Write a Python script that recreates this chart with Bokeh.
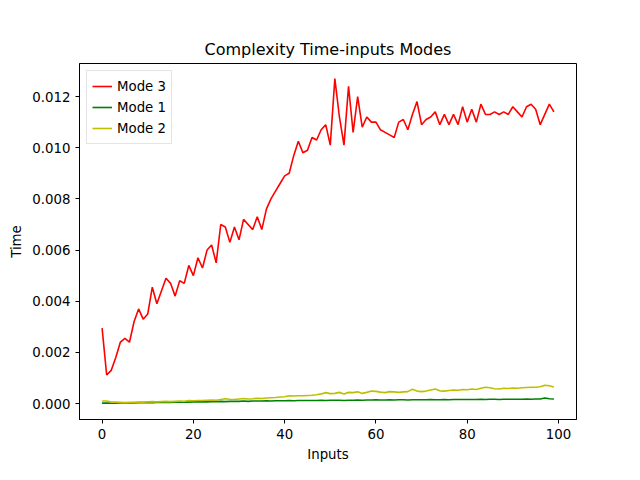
from bokeh.plotting import figure
from bokeh.embed import file_html
from bokeh.resources import INLINE
from bokeh.models import Range1d, NumeralTickFormatter, FixedTicker, Legend, LegendItem

inputs = list(range(100))
mode3 = [0.00295,0.00112,0.0013,0.0018,0.0024,0.00255,0.0024,0.0032,0.0037,0.0033,
         0.0035,0.00455,0.0039,0.0044,0.0049,0.0047,0.0042,0.0048,0.0047,0.0054,
         0.0050,0.0057,0.0053,0.0060,0.0062,0.0055,0.0070,0.0069,0.0063,0.0069,
         0.0064,0.0072,0.0070,0.0068,0.0073,0.0068,0.0076,0.0080,0.0083,0.0086,
         0.0089,0.0090,0.0097,0.01025,0.0098,0.0099,0.0104,0.0103,0.0107,0.0109,
         0.0101,0.0127,0.0112,0.0101,0.0124,0.0106,0.0120,0.0108,0.0112,0.0110,
         0.0110,0.0107,0.0106,0.0105,0.0104,0.0110,0.0111,0.0107,0.0113,0.0118,
         0.0109,0.0111,0.0112,0.0114,0.0109,0.0113,0.0109,0.0113,0.0109,0.0116,
         0.0110,0.0115,0.0110,0.0117,0.0113,0.0113,0.0114,0.0113,0.0114,0.0113,
         0.0116,0.0114,0.0112,0.0116,0.0117,0.0115,0.0109,0.0113,0.0117,0.0114]
mode1 = [0.00002,0.00002,0.00002,0.00002,0.00003,0.00003,0.00003,0.00003,0.00004,0.00004,
         0.00004,0.00004,0.00005,0.00005,0.00005,0.00005,0.00006,0.00006,0.00006,0.00006,
         0.00007,0.00007,0.00007,0.00007,0.00008,0.00008,0.00009,0.00008,0.00009,0.00009,
         0.00009,0.00010,0.00009,0.00010,0.00010,0.00010,0.00011,0.00010,0.00011,0.00011,
         0.00011,0.00012,0.00011,0.00012,0.00012,0.00012,0.00012,0.00012,0.00013,0.00012,
         0.00013,0.00013,0.00013,0.00012,0.00013,0.00013,0.00014,0.00013,0.00014,0.00014,
         0.00015,0.00014,0.00014,0.00015,0.00014,0.00015,0.00015,0.00014,0.00015,0.00015,
         0.00015,0.00015,0.00016,0.00015,0.00015,0.00016,0.00015,0.00016,0.00016,0.00016,
         0.00016,0.00016,0.00016,0.00017,0.00016,0.00017,0.00017,0.00016,0.00017,0.00017,
         0.00017,0.00017,0.00017,0.00018,0.00017,0.00018,0.00018,0.00022,0.00019,0.00018]
mode2 = [0.00010,0.00010,0.00006,0.00006,0.00005,0.00004,0.00005,0.00005,0.00006,0.00006,
         0.00007,0.00008,0.00007,0.00008,0.00009,0.00008,0.00009,0.00010,0.00009,0.00012,
         0.00011,0.00012,0.00012,0.00013,0.00014,0.00013,0.00016,0.00019,0.00017,0.00016,
         0.00018,0.00020,0.00018,0.00019,0.00021,0.00020,0.00022,0.00023,0.00024,0.00026,
         0.00027,0.00031,0.00030,0.00031,0.00031,0.00032,0.00033,0.00035,0.00038,0.00043,
         0.00039,0.00040,0.00044,0.00038,0.00044,0.00043,0.00046,0.00040,0.00044,0.00049,
         0.00048,0.00045,0.00043,0.00047,0.00046,0.00044,0.00046,0.00047,0.00056,0.00049,
         0.00047,0.00049,0.00053,0.00057,0.00050,0.00049,0.00051,0.00053,0.00052,0.00055,
         0.00054,0.00057,0.00055,0.00060,0.00064,0.00062,0.00058,0.00057,0.00060,0.00059,
         0.00061,0.00060,0.00062,0.00063,0.00064,0.00064,0.00066,0.00072,0.00070,0.00065]

p = figure(width=624, height=464, output_backend="svg", toolbar_location=None,
           title="Complexity Time-inputs Modes",
           x_range=Range1d(-4.95, 103.95), y_range=Range1d(-0.00062, 0.01329),
           min_border_left=79, min_border_right=48, min_border_top=63, min_border_bottom=36)
p.title.align = "center"
p.title.text_font = "DejaVu Sans"
p.title.text_font_size = "12pt"
p.title.text_font_style = "normal"
p.title.text_color = "black"
p.xgrid.visible = False
p.ygrid.visible = False
p.outline_line_color = "black"
p.xaxis.axis_label = "Inputs"
p.yaxis.axis_label = "Time"
p.xaxis.ticker = FixedTicker(ticks=[0, 20, 40, 60, 80, 100])
p.yaxis.ticker = FixedTicker(ticks=[0, 0.002, 0.004, 0.006, 0.008, 0.010, 0.012])
p.yaxis.formatter = NumeralTickFormatter(format="0.000")
for ax in (p.xaxis[0], p.yaxis[0]):
    ax.axis_label_text_font = "DejaVu Sans"
    ax.axis_label_text_font_style = "normal"
    ax.axis_label_text_font_size = "10pt"
    ax.axis_label_text_color = "black"
    ax.major_label_text_font = "DejaVu Sans"
    ax.major_label_text_font_size = "10pt"
    ax.major_label_text_color = "black"
    ax.minor_tick_line_color = None
    ax.major_tick_in = 0
    ax.major_tick_out = 4

r3 = p.line(inputs, mode3, line_color="red", line_width=1.6)
r1 = p.line(inputs, mode1, line_color="green", line_width=1.6)
r2 = p.line(inputs, mode2, line_color="#bfbf00", line_width=1.6)
legend = Legend(items=[LegendItem(label="Mode 3", renderers=[r3]),
                       LegendItem(label="Mode 1", renderers=[r1]),
                       LegendItem(label="Mode 2", renderers=[r2])],
                location="top_left", label_text_font="DejaVu Sans",
                label_text_font_size="10pt", label_text_color="black",
                border_line_color="#cccccc",
                glyph_height=20, label_height=20, spacing=1, padding=5, margin=7)
p.add_layout(legend)

open("out.html", "w").write(file_html(p, INLINE))
